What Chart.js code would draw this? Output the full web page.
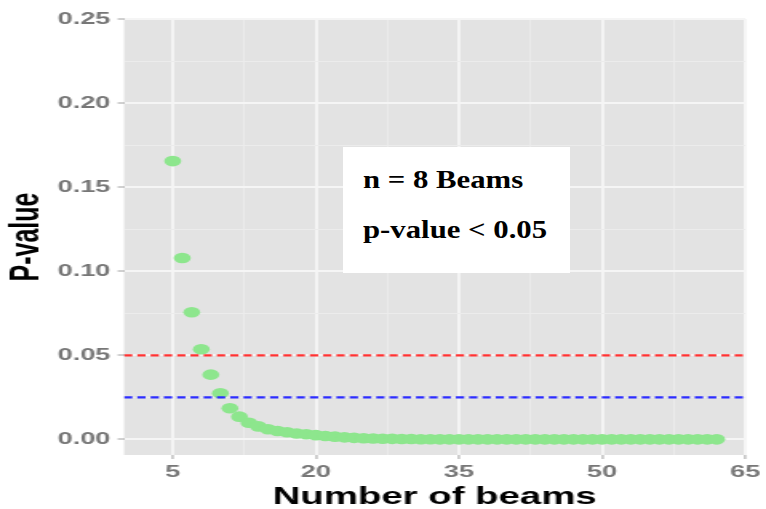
<!doctype html>
<html>

<head>
    <title>P-value x Number of beams</title>
    <script src="https://cdn.jsdelivr.net/npm/chart.js"></script>
    <style>
        body { margin: 0; background: #fff; }
        #quadro { position: relative; width: 766px; height: 509px; }
        #caixa {
            position: absolute; left: 343px; top: 147px; width: 227px; height: 126px;
            background: #fff; color: #000;
            font-family: 'Liberation Serif', 'Times New Roman', serif; font-weight: bold; font-size: 25px;
        }
        #caixa div {
            position: absolute; left: 20px; line-height: 1; white-space: nowrap;
            transform: scaleX(1.23); transform-origin: left;
        }
    </style>
</head>

<body>
    <div id="quadro">
        <!-- the original picture is stretched sideways, so the canvas is drawn narrow and widened by CSS -->
        <canvas id="grafico" width="479" height="509" style="width:766px;height:509px"></canvas>
        <div id="caixa">
            <div style="top:20px">n = 8 Beams</div>
            <div style="top:70px">p-value &lt; 0.05</div>
        </div>
    </div>

    <script>
        var feixes = [5, 6, 7, 8, 9, 10, 11, 12, 13, 14, 15, 16, 17, 18, 19, 20, 21, 22, 23, 24,
            25, 26, 27, 28, 29, 30, 31, 32, 33, 34, 35, 36, 37, 38, 39, 40, 41, 42, 43, 44,
            45, 46, 47, 48, 49, 50, 51, 52, 53, 54, 55, 56, 57, 58, 59, 60, 61, 62];
        var pValores = [0.1655, 0.1079, 0.0756, 0.0536, 0.0385, 0.0274, 0.0185, 0.0135, 0.0099, 0.0077,
            0.0060, 0.0050, 0.0042, 0.0035, 0.0030, 0.0025, 0.0020, 0.0016, 0.0012, 0.0009,
            0.0007, 0.0005, 0.0004, 0.0003, 0.0002, 0.0002, 0.0001, 0.0001, 0, 0,
            0, 0, 0, 0, 0, 0, 0, 0, 0, 0,
            0, 0, 0, 0, 0, 0, 0, 0, 0, 0,
            0, 0, 0, 0, 0, 0, 0, 0];

        var limites = [0.05, 0.025];
        var coresLimites = ['rgb(255,50,50)', 'rgb(45,45,255)'];

        var xMaiores = [5, 20, 35, 50, 65];
        var xMenores = [12.5, 27.5, 42.5, 57.5];
        var yMaiores = [0, 0.05, 0.10, 0.15, 0.20, 0.25];
        var yMenores = [0.025, 0.075, 0.125, 0.175, 0.225];

        var xFaixa = [-0.1, 65];
        var yFaixa = [-0.0093, 0.25];

        var fonteEixo = 'Liberation Sans, Arial, sans-serif';

        var pontos = feixes.map((x, i) => ({ x: x, y: pValores[i] }));

        var conjuntos = [{
            label: 'P-value',
            data: pontos,
            backgroundColor: '#8de68d',
            borderWidth: 0,
            pointRadius: 5.3,
            order: 2
        }];
        limites.forEach((v, i) => {
            conjuntos.push({
                label: 'limite ' + v,
                data: [{ x: xFaixa[0], y: v }, { x: xFaixa[1], y: v }],
                showLine: true,
                borderColor: coresLimites[i],
                borderWidth: 2.2,
                borderDash: [5.2, 3.1],
                pointRadius: 0,
                order: 1
            });
        });

        var fundo = {
            id: 'fundo',
            beforeDraw(chart) {
                var a = chart.chartArea;
                chart.ctx.save();
                chart.ctx.fillStyle = '#e3e3e3';
                chart.ctx.fillRect(a.left, a.top, a.right - a.left, a.bottom - a.top);
                chart.ctx.restore();
            }
        };

        function marcas(maiores, menores) {
            return s => { s.ticks = maiores.concat(menores).sort((a, b) => a - b).map(v => ({ value: v })); };
        }

        new Chart(document.getElementById('grafico').getContext('2d'), {
            type: 'scatter',
            data: { datasets: conjuntos },
            plugins: [fundo],
            options: {
                responsive: false,
                animation: false,
                devicePixelRatio: 1,
                layout: { padding: { left: 0, right: 10.45, top: 19, bottom: 0 } },
                plugins: { legend: { display: false }, tooltip: { enabled: false } },
                scales: {
                    x: {
                        type: 'linear',
                        min: xFaixa[0],
                        max: xFaixa[1],
                        afterBuildTicks: marcas(xMaiores, xMenores),
                        afterFit: s => { s.height = 54; },
                        border: { display: false },
                        grid: {
                            color: c => xMaiores.includes(c.tick.value) ? '#f5f5f5' : '#ececec',
                            lineWidth: c => xMaiores.includes(c.tick.value) ? 1.9 : 0.9,
                            tickLength: 4,
                            tickWidth: 1,
                            tickColor: c => xMaiores.includes(c.tick.value) ? '#a0a0a0' : 'rgba(0,0,0,0)'
                        },
                        ticks: {
                            autoSkip: false,
                            maxRotation: 0,
                            padding: 3.5,
                            color: '#777',
                            font: { family: fonteEixo, weight: 'bold', size: 17 },
                            callback: v => xMaiores.includes(v) ? String(v) : ''
                        },
                        title: {
                            display: true,
                            text: 'Number of beams',
                            color: '#000',
                            font: { family: fonteEixo, weight: 'bold', size: 24, lineHeight: 1 },
                            padding: { top: 0, bottom: 0 }
                        }
                    },
                    y: {
                        type: 'linear',
                        min: yFaixa[0],
                        max: yFaixa[1],
                        afterBuildTicks: marcas(yMaiores, yMenores),
                        afterFit: s => { s.width = 77.54; },
                        border: { display: false },
                        grid: {
                            color: c => yMaiores.includes(c.tick.value) ? '#f5f5f5' : '#ececec',
                            lineWidth: c => yMaiores.includes(c.tick.value) ? 2 : 1,
                            tickLength: 4,
                            tickWidth: 1,
                            tickColor: c => yMaiores.includes(c.tick.value) ? '#a0a0a0' : 'rgba(0,0,0,0)'
                        },
                        ticks: {
                            autoSkip: false,
                            padding: 4.5,
                            color: '#777',
                            font: { family: fonteEixo, weight: 'bold', size: 17 },
                            callback: v => yMaiores.includes(v) ? v.toFixed(2) : ''
                        },
                        title: {
                            display: true,
                            text: 'P-value',
                            color: '#000',
                            font: { family: fonteEixo, weight: 'bold', size: 25, lineHeight: 1.2 },
                            padding: { top: 2.5, bottom: 0 }
                        }
                    }
                }
            }
        });
    </script>
</body>

</html>
